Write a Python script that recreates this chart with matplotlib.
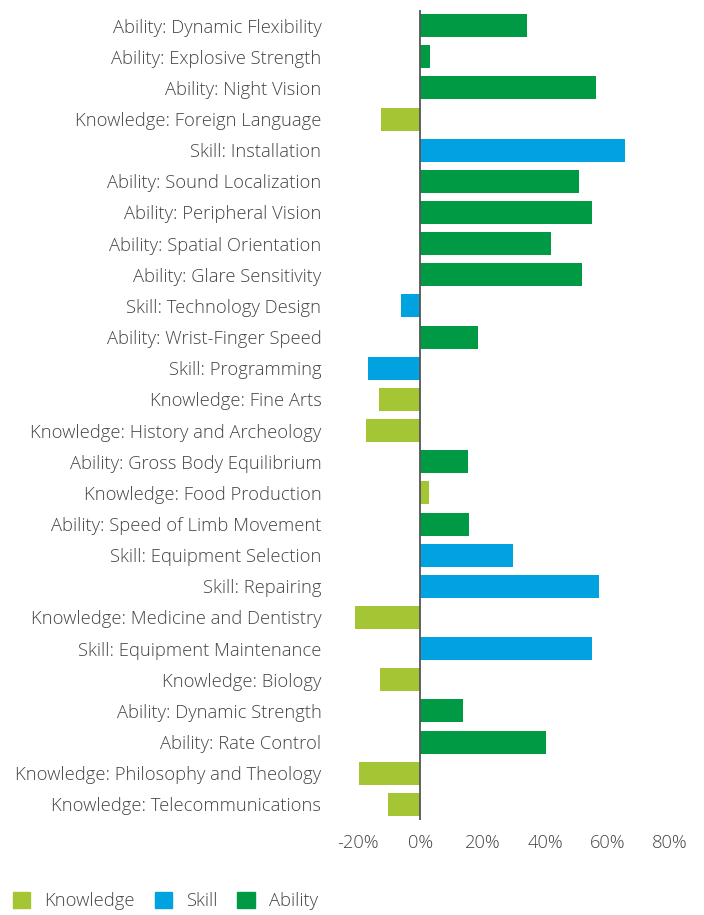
import matplotlib
matplotlib.use("Agg")
import matplotlib.pyplot as plt
from matplotlib.patches import Patch

categories = [
    "Ability: Dynamic Flexibility",
    "Ability: Explosive Strength",
    "Ability: Night Vision",
    "Knowledge: Foreign Language",
    "Skill: Installation",
    "Ability: Sound Localization",
    "Ability: Peripheral Vision",
    "Ability: Spatial Orientation",
    "Ability: Glare Sensitivity",
    "Skill: Technology Design",
    "Ability: Wrist-Finger Speed",
    "Skill: Programming",
    "Knowledge: Fine Arts",
    "Knowledge: History and Archeology",
    "Ability: Gross Body Equilibrium",
    "Knowledge: Food Production",
    "Ability: Speed of Limb Movement",
    "Skill: Equipment Selection",
    "Skill: Repairing",
    "Knowledge: Medicine and Dentistry",
    "Skill: Equipment Maintenance",
    "Knowledge: Biology",
    "Ability: Dynamic Strength",
    "Ability: Rate Control",
    "Knowledge: Philosophy and Theology",
    "Knowledge: Telecommunications",
]
values = [34.2, 3.0, 56.3, -12.7, 65.6, 50.9, 55.1, 41.9, 51.8, -6.3,
          18.5, -16.9, -13.3, -17.5, 15.2, 2.7, 15.6, 29.7, 57.3, -21.0,
          55.1, -13.0, 13.6, 40.3, -19.7, -10.4]
ticks = [-20, 0, 20, 40, 60, 80]
tick_labels = ["-20%", "0%", "20%", "40%", "60%", "80%"]

colors = {"Knowledge": "#A4C634", "Skill": "#00A3E0", "Ability": "#009A44"}
text_color = "#444444"
fs = 13.2

plt.rcParams['font.family'] = ['Open Sans', 'DejaVu Sans']
plt.rcParams['font.weight'] = 'light'

fig = plt.figure(figsize=(7.04, 9.15), dpi=100)
ax = fig.add_axes([327/704, 1 - 820/915, (694.6 - 327)/704, (820 - 10)/915])

bar_colors = [colors[c.split(":")[0]] for c in categories]
ypos = list(range(len(categories)))
ax.barh(ypos, values, height=0.74, color=bar_colors, zorder=2)
ax.axvline(0, color="#555555", lw=1.3, zorder=3)

ax.set_xlim(-30, 88)
ax.set_ylim(len(categories) - 0.5, -0.5)
ax.set_yticks(ypos)
ax.set_yticklabels(categories, fontsize=fs, color=text_color, fontweight='light')
ax.set_xticks(ticks)
ax.set_xticklabels(tick_labels, fontsize=fs, color=text_color, fontweight='light')
ax.tick_params(axis="both", length=0)
ax.tick_params(axis="y", pad=4)
ax.tick_params(axis="x", pad=10)
for s in ax.spines.values():
    s.set_visible(False)

handles = [Patch(color=colors[k], label=k) for k in ["Knowledge", "Skill", "Ability"]]
fig.legend(handles=handles, loc="lower left", bbox_to_anchor=(0.0, -0.009),
           ncol=3, frameon=False, handlelength=0.95, handleheight=0.95,
           handletextpad=0.75, columnspacing=1.1, labelcolor=text_color,
           borderaxespad=0.3, prop={'weight': 'light', 'size': fs})

fig.savefig("out.png", dpi=100)
